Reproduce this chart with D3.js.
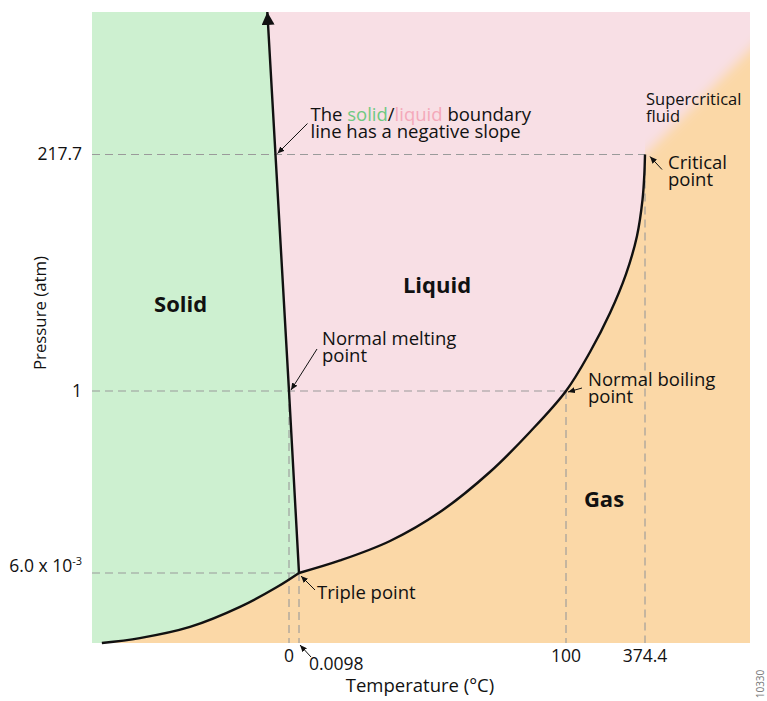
<!DOCTYPE html>
<html>
<head>
<meta charset="utf-8">
<script src="https://cdn.jsdelivr.net/npm/d3@7"></script>
<style>
	body { margin: 0; background: #fff; }
	text { font-family: "Open Sans", sans-serif; fill: #111; }
</style>
</head>
<body>
<div id="chart"></div>
<script>
// ticks and guide lines (temperature in °C, pressure in atm)
const tempTicks = [0, 0.0098, 100, 374.4];
const tempTickLabels = ["0", "0.0098", "100", "374.4"];
const tempGuideTop = [1, 0.006, 1, 217.7];
const pressTicks = [0.006, 1, 217.7];
const pressTickLabels = ["6.0 x 10", "1", "217.7"];
const pressGuideRight = [0.0098, 100, 374.4];

// phase boundaries [T, P]
const sublimation = [[-38, 0.0008], [-30.3, 0.00092], [-20.1, 0.00127], [-9.95, 0.00226], [-2.44, 0.004], [0.0098, 0.006]];
const vaporization = [[0.0098, 0.006], [15.4, 0.00853], [34.1, 0.01475], [52.8, 0.0333], [71.5, 0.1026], [86.5, 0.316], [100, 1],
	[183.4, 2.43], [252.8, 5.9], [308.4, 14.3], [346.6, 34.1], [365.7, 77.3], [372, 136.5], [374.4, 217.7]];
const melting = [[0.0098, 0.006], [0, 1], [-4.4, 5000]];

// region labels
const regionNames = ["Solid", "Liquid", "Gas"];
const regionT = [-22, 51.7, 232];
const regionP = [6.1, 9.3, 0.0387];

const width = 767, height = 701;
const green = "#cdf0d0", pink = "#f8dfe5", orange = "#fbd8a7";
const noteSize = "18.5px", tickSize = "17.5px";

const svg = d3.select("#chart").append("svg").attr("width", width).attr("height", height);

// schematic (non-uniform) axes
const x = d3.scaleLinear().domain([-40, 0, 0.0098, 100, 374.4, 440]).range([92, 289, 299, 566, 645, 750]);
const y = d3.scaleLog().domain([0.0008, 0.006, 1, 217.7, 5000]).range([643, 573, 391, 154.5, 12]);

const xL = x(-40), xR = x(440), yB = y(0.0008), yT = y(5000);
const px = (d) => [x(d[0]), y(d[1])];
const smooth = d3.line().curve(d3.curveCatmullRom.alpha(0.5));
const straight = d3.line();

function join(...segs) {
	return segs.map((s, i) => (i ? s.replace(/^M/, "L") : s)).join("") + "Z";
}

const subPx = sublimation.map(px), vapPx = vaporization.map(px), meltPx = melting.map(px);
const meltTop = meltPx[meltPx.length - 1];
const crit = vapPx[vapPx.length - 1];

const defs = svg.append("defs");
defs.append("clipPath").attr("id", "plot-clip")
	.append("rect").attr("x", xL).attr("y", yT).attr("width", xR - xL).attr("height", yB - yT);
defs.append("filter").attr("id", "soft").attr("x", "-50%").attr("y", "-50%").attr("width", "200%").attr("height", "200%")
	.append("feGaussianBlur").attr("stdDeviation", 6);

function marker(id, len, half) {
	defs.append("marker")
		.attr("id", id)
		.attr("viewBox", `${-len} ${-half} ${len} ${half * 2}`)
		.attr("refX", 0).attr("refY", 0)
		.attr("markerWidth", len).attr("markerHeight", half * 2)
		.attr("markerUnits", "userSpaceOnUse")
		.attr("orient", "auto")
		.append("path").attr("d", `M0,0L${-len},${-half}L${-len},${half}Z`).attr("fill", "#111");
}
marker("big-arrow", 13, 6.5);
marker("small-arrow", 7, 3);

// fills
const fills = svg.append("g").attr("clip-path", "url(#plot-clip)");
fills.append("rect").attr("x", xL).attr("y", yT).attr("width", xR - xL).attr("height", yB - yT).attr("fill", orange);

// supercritical: soft diagonal blend past the critical point
const diag = 85;
fills.append("path")
	.attr("d", straight([[crit[0] - diag, crit[1] + diag], [crit[0] + 180, crit[1] - 180], [crit[0] + 180, -100], [crit[0] - diag, -100]]) + "Z")
	.attr("fill", pink)
	.attr("filter", "url(#soft)");

fills.append("path")
	.attr("d", join(straight([meltTop, [crit[0], yT], crit]), smooth(vapPx.slice().reverse()), straight(meltPx)))
	.attr("fill", pink);

fills.append("path")
	.attr("d", join(straight([[xL, yT], meltTop]), straight(meltPx.slice().reverse()), smooth(subPx.slice().reverse()), straight([subPx[0], [xL, yB]])))
	.attr("fill", green);

// dashed guides
const guides = svg.append("g").attr("stroke", "#9a9a9a").attr("stroke-width", 1.1).attr("stroke-dasharray", "8,5").attr("fill", "none");
guides.selectAll(".gv").data(tempTicks).join("line")
	.attr("x1", (d) => x(d)).attr("x2", (d) => x(d))
	.attr("y1", (d, i) => y(tempGuideTop[i])).attr("y2", yB);
guides.selectAll(".gh").data(pressTicks).join("line")
	.attr("x1", xL).attr("x2", (d, i) => x(pressGuideRight[i]))
	.attr("y1", (d) => y(d)).attr("y2", (d) => y(d));

// phase boundaries
const lines = svg.append("g").attr("fill", "none").attr("stroke", "#111").attr("stroke-width", 2.4);
lines.append("path").attr("d", smooth(subPx));
lines.append("path").attr("d", smooth(vapPx));
lines.append("path").attr("d", straight(meltPx)).attr("marker-end", "url(#big-arrow)");

// region labels
svg.append("g").selectAll("text").data(regionNames).join("text")
	.attr("x", (d, i) => x(regionT[i])).attr("y", (d, i) => y(regionP[i]))
	.attr("text-anchor", "middle")
	.style("font-size", "22px").style("font-weight", 700)
	.text((d) => d);

// axis tick labels
const yTickG = svg.append("g").style("font-size", tickSize);
yTickG.selectAll("text").data(pressTicks).join("text")
	.attr("x", 82).attr("y", (d) => y(d))
	.attr("dy", (d, i) => (i === 0 ? -1 : 5.5))
	.attr("text-anchor", "end")
	.each(function (d, i) {
		const t = d3.select(this);
		t.append("tspan").text(pressTickLabels[i]);
		if (i === 0) t.append("tspan").attr("dy", -7).style("font-size", "11px").text("-3");
	});

const xTickG = svg.append("g").style("font-size", tickSize);
xTickG.selectAll("text").data(tempTicks).join("text")
	.attr("x", (d, i) => (i === 1 ? x(d) + 10 : x(d)))
	.attr("y", (d, i) => (i === 1 ? yB + 27 : yB + 19))
	.attr("text-anchor", (d, i) => (i === 1 ? "start" : "middle"))
	.text((d, i) => tempTickLabels[i]);
svg.append("line")
	.attr("x1", x(0.0098) + 12).attr("y1", yB + 14)
	.attr("x2", x(0.0098) + 1).attr("y2", yB + 2)
	.attr("stroke", "#111").attr("stroke-width", 1)
	.attr("marker-end", "url(#small-arrow)");

// axis titles
svg.append("text").attr("x", 420).attr("y", 692).attr("text-anchor", "middle").style("font-size", "18.5px").text("Temperature (°C)");
svg.append("text").attr("transform", "translate(46,313) rotate(-90)").attr("text-anchor", "middle").style("font-size", "16.8px").text("Pressure (atm)");
svg.append("text").attr("transform", "translate(764,684) rotate(-90)").attr("text-anchor", "middle")
	.style("font-size", "10px").style("fill", "#777").text("10330");

// annotations: anchor point, arrow tip/tail offsets, text offset, lines
const meltAt = (p) => {
	const py = y(p);
	const a = meltPx[1], b = meltPx[2];
	return [a[0] + ((py - a[1]) / (b[1] - a[1])) * (b[0] - a[0]), py];
};
const notes = [
	{ at: meltAt(217.7), tip: [2, -1], tail: [32, -31], text: [35, -34], lines: null },
	{ at: px([0, 1]), tip: [2, -1], tail: [28, -42], text: [33, -46], lines: ["Normal melting", "point"] },
	{ at: px([100, 1]), tip: [2, 1], tail: [16, -3], text: [22, -5], lines: ["Normal boiling", "point"] },
	{ at: crit, tip: [5, 2], tail: [17, 15], text: [23, 14], lines: ["Critical", "point"] },
	{ at: px([0.0098, 0.006]), tip: [2, 3], tail: [16, 17], text: [18, 26], lines: ["Triple point"] },
];

const noteG = svg.append("g").style("font-size", noteSize);
notes.forEach((n) => {
	noteG.append("line")
		.attr("x1", n.at[0] + n.tail[0]).attr("y1", n.at[1] + n.tail[1])
		.attr("x2", n.at[0] + n.tip[0]).attr("y2", n.at[1] + n.tip[1])
		.attr("stroke", "#111").attr("stroke-width", 1)
		.attr("marker-end", "url(#small-arrow)");
	if (!n.lines) return;
	const t = noteG.append("text").attr("x", n.at[0] + n.text[0]).attr("y", n.at[1] + n.text[1]);
	n.lines.forEach((l, i) => {
		t.append("tspan").attr("x", n.at[0] + n.text[0]).attr("dy", i ? 17 : 0).text(l);
	});
});

// the solid/liquid note with coloured words
const b = notes[0];
const bt = noteG.append("text").attr("x", b.at[0] + b.text[0]).attr("y", b.at[1] + b.text[1]);
bt.append("tspan").text("The ");
bt.append("tspan").style("fill", "#6fc982").text("solid");
bt.append("tspan").text("/");
bt.append("tspan").style("fill", "#f4a9ba").text("liquid");
bt.append("tspan").text(" boundary");
noteG.append("text").attr("x", b.at[0] + b.text[0]).attr("y", b.at[1] + b.text[1] + 17).text("line has a negative slope");

// supercritical label
const sc = noteG.append("text").attr("x", crit[0] + 1).attr("y", crit[1] - 50).style("font-size", "16.5px");
sc.append("tspan").attr("x", crit[0] + 1).text("Supercritical");
sc.append("tspan").attr("x", crit[0] + 1).attr("dy", 17).text("fluid");
</script>
</body>
</html>
